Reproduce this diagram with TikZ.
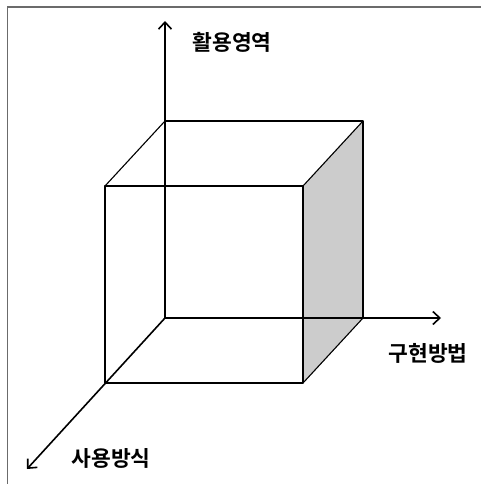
\documentclass[tikz,border=0pt]{standalone}
\usepackage{fontspec}
\newfontfamily\krfont{Noto Sans CJK KR}[BoldFont={* Bold}]
\usetikzlibrary{arrows.meta}
\definecolor{cface}{HTML}{CCCCCC}
\definecolor{cframe}{HTML}{6B6B6B}
\tikzset{
  every picture/.style={line width=1.2pt},
  axis/.style={-{Straight Barb[length=7pt, width=13pt]}, draw=black, line width=1.6pt},
  edge/.style={draw=black, line width=1.1pt, line join=round},
  label/.style={font=\krfont\bfseries\fontsize{21.5}{21.5}\selectfont, inner sep=0pt},
}

\begin{document}
\begin{tikzpicture}[x=1pt, y=-1pt]
  \useasboundingbox (0,0) rectangle (481,484);
  % partial frame
  \draw[cframe, line width=1.5pt] (7.5,484) -- (7.5,7) -- (481,7);
  % cube corners
  \coordinate (o)  at (165,318);
  \coordinate (b1) at (165,121); \coordinate (b2) at (363,121); \coordinate (b3) at (363,318);
  \coordinate (f1) at (105,186); \coordinate (f2) at (303,186);
  \coordinate (f3) at (303,383); \coordinate (f4) at (105,383);
  % shaded side
  \fill[cface] (f2) -- (b2) -- (b3) -- (f3) -- cycle;
  % axes
  \coordinate (up) at (165,21); \coordinate (rt) at (441,318); \coordinate (dl) at (27,469);
  \draw[axis] (o) -- (up);
  \draw[axis] (o) -- (rt);
  \draw[axis] (o) -- (dl);
  % cube edges
  \draw[edge] (b1) -- (b2) -- (b3);
  \draw[edge] (f1) -- (f2) -- (f3) -- (f4) -- cycle;
  \draw[edge] (f1) -- (b1); \draw[edge] (f2) -- (b2); \draw[edge] (f3) -- (b3);
  % labels
  \node[label] (use) at (232,42) {활용영역};
  \node[label] (impl) at (428,353) {구현방법};
  \node[label] (mode) at (111,458) {사용방식};
\end{tikzpicture}
\end{document}
